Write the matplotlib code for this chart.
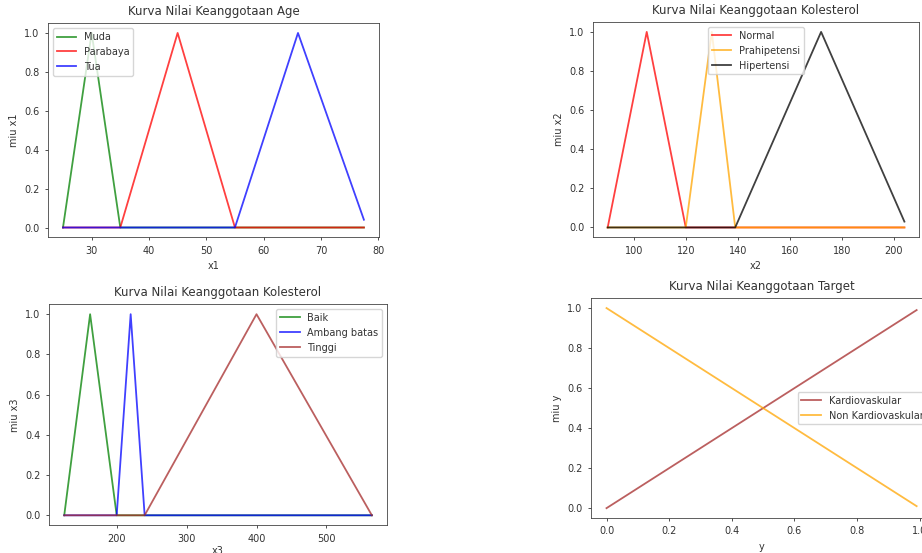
import matplotlib
matplotlib.use("Agg")
import matplotlib.pyplot as plt

# --- data: vertices of the membership curves ---
# Age (x1)
age_muda_x = [25, 30, 35, 77.5]
age_muda_y = [0, 1, 0, 0]
age_parabaya_x = [25, 35, 45, 55, 77.5]
age_parabaya_y = [0, 0, 1, 0, 0]
age_tua_x = [25, 55, 66, 77.5]
age_tua_y = [0, 0, 1, 0.04]

# Tekanan darah (x2)
td_normal_x = [90, 105, 120, 204]
td_normal_y = [0, 1, 0, 0]
td_prahip_x = [90, 120, 130, 139, 204]
td_prahip_y = [0, 0, 1, 0, 0]
td_hiper_x = [90, 139, 172, 204]
td_hiper_y = [0, 0, 1, 0.03]

# Kolesterol (x3)
kol_baik_x = [125, 162, 200, 565]
kol_baik_y = [0, 1, 0, 0]
kol_ambang_x = [125, 200, 220, 240, 565]
kol_ambang_y = [0, 0, 1, 0, 0]
kol_tinggi_x = [125, 240, 400, 565]
kol_tinggi_y = [0, 0, 1, 0]

# Target (y)
tgt_x = [0, 0.99]
tgt_kardio_y = [0, 0.99]
tgt_non_y = [1, 0.01]

plt.rcParams.update({
    "font.size": 7,
    "axes.titlesize": 8.5,
    "axes.labelsize": 7,
    "xtick.labelsize": 7,
    "ytick.labelsize": 7,
    "legend.fontsize": 7,
    "axes.linewidth": 0.6,
    "axes.edgecolor": "#444444",
    "text.color": "#333333",
    "axes.labelcolor": "#333333",
    "xtick.color": "#333333",
    "ytick.color": "#333333",
    "xtick.major.size": 2.5,
    "ytick.major.size": 2.5,
    "xtick.major.width": 0.6,
    "ytick.major.width": 0.6,
})

fig = plt.figure(figsize=(9.22, 5.53), dpi=100)
lw = 1.3
al = 0.75

# --- Subplot 1: Age ---
ax1 = fig.add_axes([0.052, 0.571, 0.359, 0.387])
ax1.plot(age_muda_x, age_muda_y, 'g', linewidth=lw, alpha=al, label='Muda')
ax1.plot(age_parabaya_x, age_parabaya_y, 'r', linewidth=lw, alpha=al, label='Parabaya')
ax1.plot(age_tua_x, age_tua_y, 'b', linewidth=lw, alpha=al, label='Tua')
ax1.set_title('Kurva Nilai Keanggotaan Age')
ax1.set_xlabel('x1')
ax1.set_ylabel('miu x1')
ax1.legend(loc='upper left')

# --- Subplot 2: Kolesterol (x2) ---
ax2 = fig.add_axes([0.643, 0.571, 0.354, 0.389])
ax2.plot(td_normal_x, td_normal_y, 'r', linewidth=lw, alpha=al, label='Normal')
ax2.plot(td_prahip_x, td_prahip_y, color='orange', linewidth=lw, alpha=al, label='Prahipetensi')
ax2.plot(td_hiper_x, td_hiper_y, 'k', linewidth=lw, alpha=al, label='Hipertensi')
ax2.set_title('Kurva Nilai Keanggotaan Kolesterol')
ax2.set_xlabel('x2')
ax2.set_ylabel('miu x2')
ax2.legend(loc='upper center')

# --- Subplot 3: Kolesterol (x3) ---
ax3 = fig.add_axes([0.053, 0.050, 0.367, 0.400])
ax3.plot(kol_baik_x, kol_baik_y, 'g', linewidth=lw, alpha=al, label='Baik')
ax3.plot(kol_ambang_x, kol_ambang_y, 'b', linewidth=lw, alpha=al, label='Ambang batas')
ax3.plot(kol_tinggi_x, kol_tinggi_y, color='brown', linewidth=lw, alpha=al, label='Tinggi')
ax3.set_title('Kurva Nilai Keanggotaan Kolesterol')
ax3.set_xlabel('x3', labelpad=1.5)
ax3.set_ylabel('miu x3')
ax3.legend(loc='upper right')

# --- Subplot 4: Target ---
ax4 = fig.add_axes([0.641, 0.063, 0.370, 0.398])
ax4.plot(tgt_x, tgt_kardio_y, color='brown', linewidth=lw, alpha=al, label='Kardiovaskular')
ax4.plot(tgt_x, tgt_non_y, color='orange', linewidth=lw, alpha=al, label='Non Kardiovaskular')
ax4.set_title('Kurva Nilai Keanggotaan Target')
ax4.set_xlabel('y')
ax4.set_ylabel('miu y')
ax4.legend(loc='center right')

fig.savefig('out.png', dpi=100)
